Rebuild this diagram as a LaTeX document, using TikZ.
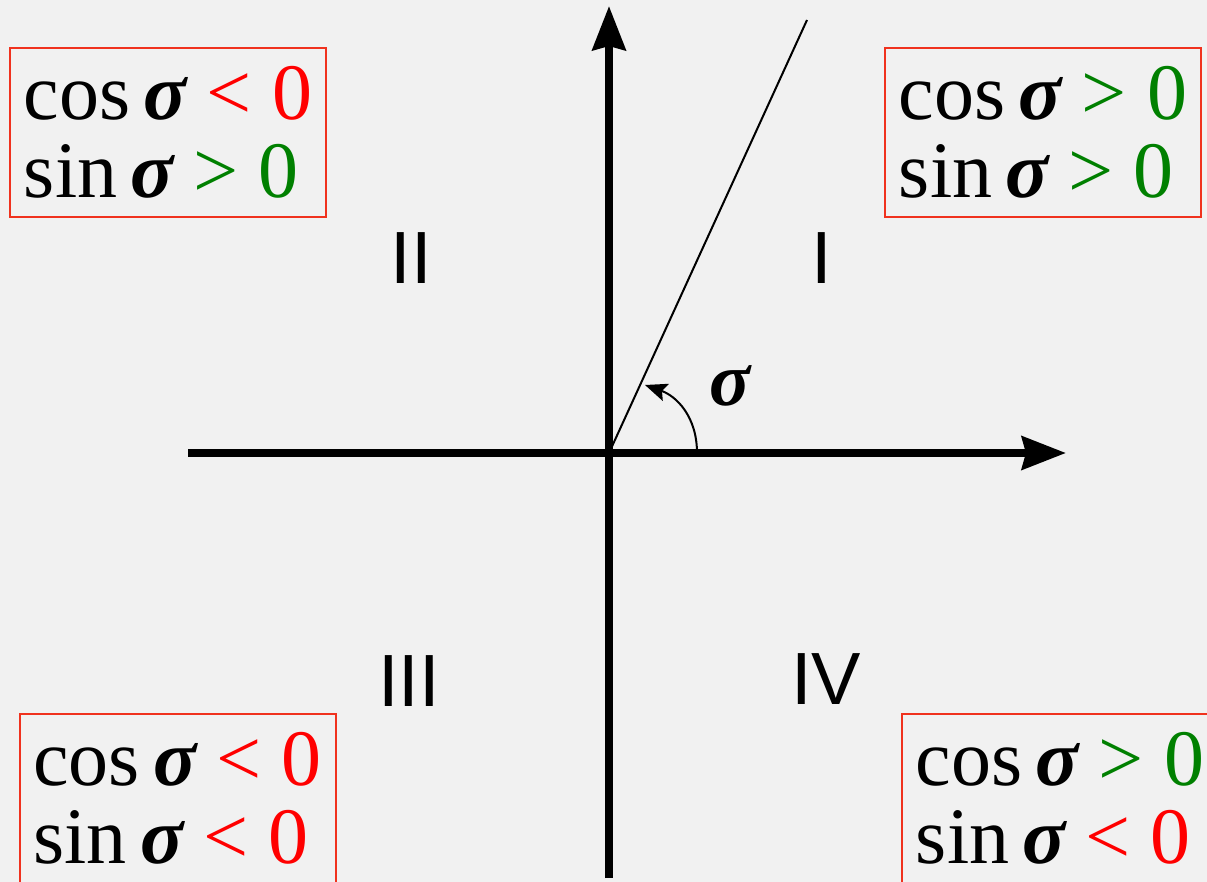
\documentclass[tikz,border=0pt]{standalone}
\usepackage{fontspec}
\setmainfont{Liberation Serif}
\newfontfamily\lsans{Liberation Sans}
\usetikzlibrary{arrows.meta}
\definecolor{bg}{RGB}{241,241,241}
\definecolor{boxred}{RGB}{240,50,30}
\definecolor{tred}{RGB}{255,0,0}
\definecolor{tgreen}{RGB}{0,128,0}
\newcommand{\sg}{{\bfseries\itshape σ}}
\begin{document}
\begin{tikzpicture}[x=0.5pt,y=-0.5pt,
  axis/.style={line width=4pt, -{Stealth[length=22pt,width=16.5pt,inset=2pt]}},
  sigbox/.style={draw=boxred, line width=1pt, minimum width=158pt, minimum height=84.5pt, inner sep=0pt, align=left, font=\fontsize{40}{39}\selectfont},
  quad/.style={font=\lsans\fontsize{37}{37}\selectfont, inner sep=0pt},
  ray/.style={line width=1pt},
  anglearc/.style={line width=1pt, -{Stealth[length=11pt,width=9pt,inset=2pt]}}
]
\fill[bg] (0,0) rectangle (1207,882);
\useasboundingbox (0,0) rectangle (1207,882);

% axes
\coordinate (xs) at (188,453);
\coordinate (xe) at (1066,453);
\coordinate (ys) at (609,878);
\coordinate (ye) at (609,6);
\coordinate (O) at (609,453);
\coordinate (R) at (807,20);
\draw[axis] (xs) -- (xe);
\draw[axis] (ys) -- (ye);
\draw[ray] (O) -- (R);

% angle arc
\coordinate (a0) at (697,453);
\coordinate (a1) at (645,385);
\draw[anglearc] (a0) .. controls (697,416) and (676,396) .. (a1);
\node (sig) at (730,386) {\fontsize{38}{38}\selectfont\sg};

% quadrant labels
\node[quad] (q1) at (822,258) {I};
\node[quad] (q2) at (411,258) {II};
\node[quad] (q3) at (409,681) {III};
\node[quad] (q4) at (826,679) {IV};

% sign boxes
\node[sigbox] (b2) at (168,132.5) {cos\,\sg{} \textcolor{tred}{< 0}\\sin\,\sg{} \textcolor{tgreen}{> 0}};
\node[sigbox] (b1) at (1043,132.5) {cos\,\sg{} \textcolor{tgreen}{> 0}\\sin\,\sg{} \textcolor{tgreen}{> 0}};
\node[sigbox] (b3) at (177.5,798.5) {cos\,\sg{} \textcolor{tred}{< 0}\\sin\,\sg{} \textcolor{tred}{< 0}};
\node[sigbox] (b4) at (1060,798.5) {cos\,\sg{} \textcolor{tgreen}{> 0}\\sin\,\sg{} \textcolor{tred}{< 0}};
\end{tikzpicture}
\end{document}
